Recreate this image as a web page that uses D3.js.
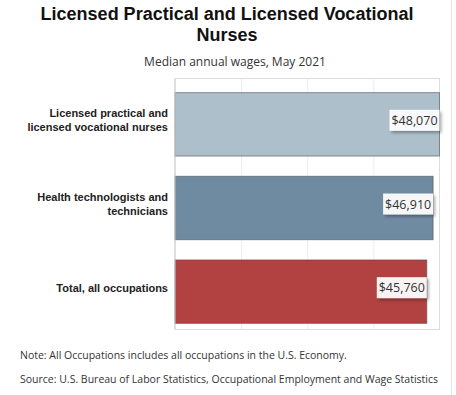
<!doctype html>
<html lang="en">
<head>
<meta charset="UTF-8" />
<title>Licensed Practical and Licensed Vocational Nurses</title>
<script src="https://d3js.org/d3.v7.min.js"></script>
<style>
  body, html { margin: 0; padding: 0; background: #fff; }
  svg { display: block; }
  .cat { font-family: "Liberation Sans", Arial, sans-serif; font-weight: bold; font-size: 11px; fill: #222; }
  .title { font-family: "Liberation Sans", Arial, sans-serif; font-weight: bold; font-size: 18px; fill: #111; }
  .sub, .note, .val { font-family: "Open Sans", sans-serif; fill: #333; }
</style>
</head>
<body>
<svg id="chart"></svg>
<script>
  // data
  const categories = [
    ["Licensed practical and", "licensed vocational nurses"],
    ["Health technologists and", "technicians"],
    ["Total, all occupations"]
  ];
  const wages = [48070, 46910, 45760];
  const colors = ["#adbfcb", "#6f8ba2", "#b24141"];
  const notes = [
    "Note: All Occupations includes all occupations in the U.S. Economy.",
    "Source: U.S. Bureau of Labor Statistics, Occupational Employment and Wage Statistics"
  ];

  const W = 456, H = 395;
  const svg = d3.select("#chart").attr("width", W).attr("height", H);

  const defs = svg.append("defs");
  defs.append("filter").attr("id", "shadow")
    .attr("x", "-20%").attr("y", "-30%").attr("width", "150%").attr("height", "180%")
    .append("feDropShadow")
    .attr("dx", 2).attr("dy", 2).attr("stdDeviation", 1.8)
    .attr("flood-color", "#000").attr("flood-opacity", 0.35);

  const plot = { left: 175, right: 439.5, top: 78.5, bottom: 329.5 };

  const x = d3.scaleLinear().domain([0, d3.max(wages)]).range([plot.left, plot.right]);
  const y = d3.scaleBand().domain(d3.range(wages.length))
    .range([plot.top, plot.bottom]);
  // bars sit a little lower than the band centre, labels stay centred
  const yBar = d3.scaleBand().domain(d3.range(wages.length))
    .range([plot.top + 4, plot.bottom + 4]).paddingInner(0.242).paddingOuter(0.121);

  // title
  svg.append("text").attr("class", "title").attr("x", 227).attr("y", 19.5)
    .attr("text-anchor", "middle").text("Licensed Practical and Licensed Vocational");
  svg.append("text").attr("class", "title").attr("x", 227).attr("y", 41)
    .attr("text-anchor", "middle").text("Nurses");
  svg.append("text").attr("class", "sub").attr("x", 235).attr("y", 66)
    .attr("text-anchor", "middle").attr("font-size", 12).text("Median annual wages, May 2021");

  // frame + grid
  svg.append("rect").attr("x", plot.left).attr("y", plot.top)
    .attr("width", plot.right - plot.left).attr("height", plot.bottom - plot.top)
    .attr("fill", "none").attr("stroke", "#dcdcdc");
  svg.append("g")
    .attr("transform", `translate(0,${plot.top})`)
    .call(d3.axisTop(x).tickValues(d3.range(1, 4).map(i => d3.max(wages) * i / 4))
      .tickSize(-(plot.bottom - plot.top)).tickFormat(""))
    .call(g => g.select(".domain").remove())
    .call(g => g.selectAll(".tick line").attr("stroke", "#ececec"));

  // bars
  svg.append("g").selectAll("rect").data(wages).join("rect")
    .attr("x", plot.left)
    .attr("y", (d, i) => yBar(i))
    .attr("width", d => x(d) - plot.left)
    .attr("height", yBar.bandwidth())
    .attr("fill", (d, i) => colors[i])
    .attr("stroke", "rgba(70,70,70,0.55)")
    .attr("stroke-width", 1);

  svg.append("line").attr("x1", plot.left).attr("x2", plot.left)
    .attr("y1", plot.top).attr("y2", plot.bottom).attr("stroke", "#cfcfcf");

  // category labels
  const cat = svg.append("g").selectAll("text").data(categories).join("text")
    .attr("class", "cat")
    .attr("text-anchor", "end")
    .attr("x", 168)
    .attr("y", (d, i) => y(i) + y.bandwidth() / 2 + 4 - (d.length - 1) * 7);
  cat.selectAll("tspan").data(d => d).join("tspan")
    .attr("x", 168).attr("dy", (d, j) => j ? 14 : 0).text(d => d);

  // value labels
  const fmt = d3.format("$,");
  const lab = svg.append("g").selectAll("g").data(wages).join("g")
    .attr("transform", (d, i) => `translate(${x(d)},${y(i) + y.bandwidth() / 2})`);
  lab.append("rect")
    .attr("x", -50).attr("y", -10.5).attr("width", 50).attr("height", 21)
    .attr("fill", "rgba(255,255,255,0.93)")
    .attr("filter", "url(#shadow)");
  lab.append("text").attr("class", "val")
    .attr("x", -25).attr("y", 4.5).attr("text-anchor", "middle")
    .attr("font-size", 12.5).text(d => fmt(d));

  // notes
  svg.append("g").selectAll("text").data(notes).join("text")
    .attr("class", "note").attr("font-size", 10.5)
    .attr("x", 20).attr("y", (d, i) => 358.5 + i * 24).text(d => d);

  svg.append("line").attr("x1", 451.5).attr("x2", 451.5).attr("y1", 0).attr("y2", H)
    .attr("stroke", "#e2e2e2");
</script>
</body>
</html>
